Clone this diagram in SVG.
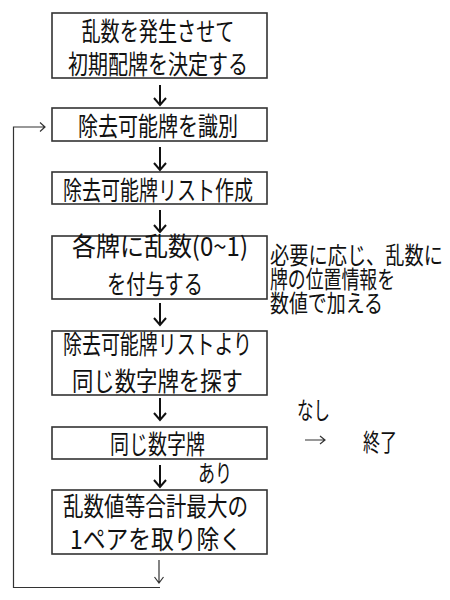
<svg xmlns="http://www.w3.org/2000/svg" width="450" height="600" viewBox="0 0 450 600">
<defs>
<style>
.box{fill:#fff;stroke:#333;stroke-width:1.6}
.t{font-family:"Noto Sans CJK JP","Noto Sans",sans-serif;font-size:26px;fill:#111;text-anchor:middle}
.s{font-family:"Noto Sans CJK JP","Noto Sans",sans-serif;font-size:24px;fill:#111}
.c{fill:none;stroke:#111;stroke-width:2}
.ct{fill:none;stroke:#333;stroke-width:1.2}
</style>
</defs>
<rect width="450" height="600" fill="#fff"/>
<g id="n1"><rect class="box" x="52" y="13" width="215" height="65"/>
<text class="t" x="158" y="41" textLength="153" lengthAdjust="spacingAndGlyphs">乱数を発生させて</text>
<text class="t" x="158" y="74" textLength="180" lengthAdjust="spacingAndGlyphs">初期配牌を決定する</text></g>
<g id="n2"><rect class="box" x="52" y="108" width="215" height="33"/>
<text class="t" x="158" y="136" textLength="160" lengthAdjust="spacingAndGlyphs">除去可能牌を識別</text></g>
<g id="n3"><rect class="box" x="52" y="172" width="215" height="32"/>
<text class="t" x="158" y="200" textLength="190" lengthAdjust="spacingAndGlyphs">除去可能牌リスト作成</text></g>
<g id="n4"><rect class="box" x="52" y="236" width="215" height="63"/>
<text class="t" x="160" y="256" textLength="176" lengthAdjust="spacingAndGlyphs">各牌に乱数(0~1)</text>
<text class="t" x="155" y="294" textLength="96" lengthAdjust="spacingAndGlyphs">を付与する</text></g>
<g id="n5"><rect class="box" x="52" y="331" width="215" height="64"/>
<text class="t" x="157.5" y="354" textLength="189" lengthAdjust="spacingAndGlyphs">除去可能牌リストより</text>
<text class="t" x="157.5" y="391" textLength="171" lengthAdjust="spacingAndGlyphs">同じ数字牌を探す</text></g>
<g id="n6"><rect class="box" x="52" y="427" width="215" height="32"/>
<text class="t" x="157.5" y="454" textLength="95" lengthAdjust="spacingAndGlyphs">同じ数字牌</text></g>
<g id="n7"><rect class="box" x="52" y="490" width="215" height="64"/>
<text class="t" x="155.5" y="516" textLength="185" lengthAdjust="spacingAndGlyphs">乱数値等合計最大の</text>
<text class="t" x="156" y="549" textLength="172" lengthAdjust="spacingAndGlyphs">1ペアを取り除く</text></g>
<g id="note">
<text class="s" x="270" y="264" textLength="173" lengthAdjust="spacingAndGlyphs">必要に応じ、乱数に</text>
<text class="s" x="270" y="288" textLength="125" lengthAdjust="spacingAndGlyphs">牌の位置情報を</text>
<text class="s" x="270" y="312" textLength="113" lengthAdjust="spacingAndGlyphs">数値で加える</text>
</g>
<g id="end"><text class="s" x="363" y="451" textLength="34" lengthAdjust="spacingAndGlyphs">終了</text></g>
<g id="labels">
<text class="s" x="297" y="419" textLength="33" lengthAdjust="spacingAndGlyphs">なし</text>
<text class="s" x="198" y="482" textLength="34" lengthAdjust="spacingAndGlyphs">あり</text>
</g>
<g id="connectors">
<path class="c" d="M160 85V105M154 98L160 105L166 98"/>
<path class="c" d="M160 147V170M154 163L160 170L166 163"/>
<path class="c" d="M160 210V232M154 225L160 232L166 225"/>
<path class="c" d="M160 303V325M154 318L160 325L166 318"/>
<path class="c" d="M160 398V420M154 413L160 420L166 413"/>
<path class="c" d="M160 465V487M154 480L160 487L166 480"/>
<path class="ct" d="M159 560V583M154.5 577L159 583L163.5 577"/>
<path class="ct" d="M160 587.5H13.5V127H45M40 122.5L45 127L40 131.5"/>
<path class="ct" d="M305 440H325M320 436L325 440L320 444"/>
</g>
</svg>
